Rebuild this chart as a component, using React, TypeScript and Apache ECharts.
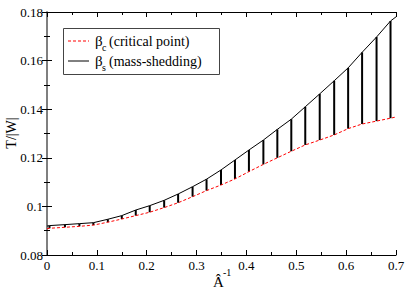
import React, { useEffect, useRef } from "react";
import * as echarts from "echarts";

// x positions (Â^-1) of the sampled models
const xs = [
  0.005, 0.036, 0.065, 0.093, 0.122, 0.150, 0.178, 0.206, 0.235, 0.263,
  0.292, 0.320, 0.349, 0.377, 0.405, 0.434, 0.462, 0.490, 0.518, 0.547,
  0.576, 0.604, 0.632, 0.661, 0.689,
];
// β_s (mass-shedding)
const betaS = [
  0.0921, 0.0925, 0.0929, 0.0933, 0.0947, 0.0962, 0.0985, 0.1003, 0.1025, 0.1051,
  0.1081, 0.1112, 0.115, 0.1191, 0.1232, 0.1273, 0.1317, 0.1359, 0.141, 0.1463,
  0.1517, 0.157, 0.1634, 0.1697, 0.1763,
];
// β_c (critical point)
const betaC = [
  0.091, 0.0914, 0.0918, 0.0923, 0.0935, 0.0948, 0.0962, 0.0976, 0.0995, 0.1015,
  0.104, 0.1065, 0.1088, 0.1113, 0.1143, 0.1173, 0.12, 0.1227, 0.1253, 0.1273,
  0.1294, 0.132, 0.1339, 0.1351, 0.1363,
];
// curve end points (read at the frame edges)
const sEnds = [[0, 0.0919], [0.7, 0.178]];
const cEnds = [[0, 0.0908], [0.7, 0.1368]];

const xTicks = { min: 0, max: 0.7, interval: 0.1 };
const yTicks = { min: 0.08, max: 0.18, interval: 0.02 };

const FONT = "Times New Roman";

export default function App() {
  const ref = useRef<HTMLDivElement>(null);
  useEffect(() => {
    if (!ref.current) return;
    const chart = echarts.init(ref.current, null, { renderer: "svg" });
    const sData = [sEnds[0], ...xs.map((x, i) => [x, betaS[i]]), sEnds[1]];
    const cData = [cEnds[0], ...xs.map((x, i) => [x, betaC[i]]), cEnds[1]];
    const barData = xs.map((x, i) => [x, betaC[i], betaS[i]]);
    const labelStyle = { fontFamily: FONT, fontSize: 13, color: "#000" };
    const tickCommon = {
      axisTick: { show: true, inside: true, length: 5, lineStyle: { color: "#000" } },
      minorTick: { show: true, splitNumber: 2, length: 3, lineStyle: { color: "#000" } },
      splitLine: { show: false },
      minorSplitLine: { show: false },
    };
    chart.setOption({
      animation: false,
      backgroundColor: "#fff",
      grid: { left: 47, right: 11, top: 12, bottom: 37, containLabel: false, outerBoundsMode: "none" },
      xAxis: [
        {
          type: "value",
          ...xTicks,
          position: "bottom",
          axisLine: { show: true, lineStyle: { color: "#000", width: 1 } },
          axisLabel: { ...labelStyle, margin: 4 },
          ...tickCommon,
        },
        {
          type: "value",
          ...xTicks,
          position: "top",
          axisLine: { show: true, lineStyle: { color: "#000", width: 1 } },
          axisLabel: { show: false },
          ...tickCommon,
        },
      ],
      yAxis: [
        {
          type: "value",
          ...yTicks,
          position: "left",
          axisLine: { show: true, lineStyle: { color: "#777", width: 1.5 } },
          axisLabel: { ...labelStyle, margin: 4 },
          ...tickCommon,
        },
        {
          type: "value",
          ...yTicks,
          position: "right",
          axisLine: { show: true, lineStyle: { color: "#777", width: 1.5 } },
          axisLabel: { show: false },
          ...tickCommon,
        },
      ],
      series: [
        {
          type: "custom",
          xAxisIndex: 0,
          yAxisIndex: 0,
          data: barData,
          encode: { x: 0, y: [1, 2] },
          renderItem: (params: any, api: any) => {
            const x = api.value(0);
            const p1 = api.coord([x, api.value(1)]);
            const p2 = api.coord([x, api.value(2)]);
            return {
              type: "line",
              shape: { x1: p1[0], y1: p1[1], x2: p2[0], y2: p2[1] },
              style: { stroke: "#000", lineWidth: 2 },
            };
          },
          z: 2,
        },
        {
          type: "line",
          data: sData,
          symbol: "none",
          lineStyle: { color: "#000", width: 1 },
          z: 3,
        },
        {
          type: "line",
          data: cData,
          symbol: "none",
          lineStyle: { color: "#ff0000", width: 1, type: [3, 2] },
          z: 3,
        },
      ],
      graphic: [
        {
          type: "rect",
          shape: { x: 63.5, y: 28.5, width: 156, height: 46 },
          style: { fill: "#fff", stroke: "#444", lineWidth: 1 },
          z: 10,
        },
        {
          type: "line",
          shape: { x1: 68, y1: 41, x2: 89, y2: 41 },
          style: { stroke: "#ff0000", lineWidth: 1, lineDash: [3, 2] },
          z: 11,
        },
        {
          type: "line",
          shape: { x1: 68, y1: 61, x2: 89, y2: 61 },
          style: { stroke: "#000", lineWidth: 1 },
          z: 11,
        },
        { type: "text", x: 95, y: 41, style: { text: "β", fontFamily: FONT, fontSize: 15, fill: "#000", verticalAlign: "middle" }, z: 11 },
        { type: "text", x: 102, y: 47, style: { text: "c", fontFamily: FONT, fontSize: 10, fill: "#000", verticalAlign: "middle" }, z: 11 },
        { type: "text", x: 109, y: 41, style: { text: "(critical point)", fontFamily: FONT, fontSize: 14, fill: "#000", verticalAlign: "middle" }, z: 11 },
        { type: "text", x: 95, y: 61, style: { text: "β", fontFamily: FONT, fontSize: 15, fill: "#000", verticalAlign: "middle" }, z: 11 },
        { type: "text", x: 102, y: 67, style: { text: "s", fontFamily: FONT, fontSize: 10, fill: "#000", verticalAlign: "middle" }, z: 11 },
        { type: "text", x: 109, y: 61, style: { text: "(mass-shedding)", fontFamily: FONT, fontSize: 14, fill: "#000", verticalAlign: "middle" }, z: 11 },
        { type: "text", x: 213, y: 282, style: { text: "Â", fontFamily: FONT, fontSize: 15, fill: "#000", verticalAlign: "middle" }, z: 11 },
        { type: "text", x: 223, y: 272, style: { text: "-1", fontFamily: FONT, fontSize: 10, fill: "#000", verticalAlign: "middle" }, z: 11 },
        {
          type: "text",
          x: 11,
          y: 133,
          rotation: Math.PI / 2,
          style: { text: "T/|W|", fontFamily: FONT, fontSize: 14, fill: "#000", align: "center", verticalAlign: "middle" },
          z: 11,
        },
      ],
    });
    return () => chart.dispose();
  }, []);
  return (
    <div
      ref={ref}
      style={{ position: "absolute", left: 0, top: 0, width: 407, height: 292, background: "#fff" }}
    />
  );
}
